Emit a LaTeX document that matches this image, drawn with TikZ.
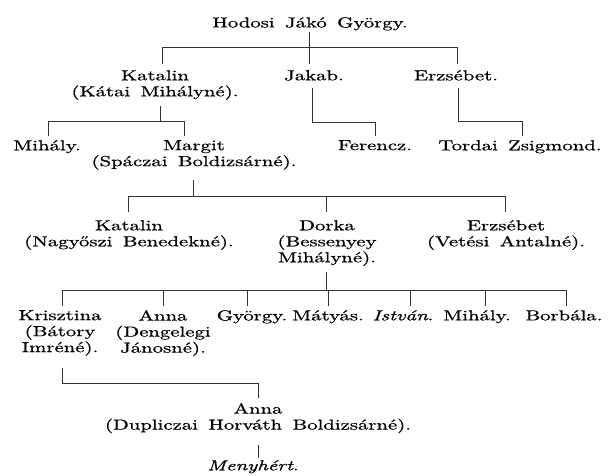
\documentclass[tikz,border=0pt]{standalone}
\usepackage{fontspec}
\setmainfont{lmroman10-regular.otf}[ItalicFont=lmroman10-italic.otf, FakeBold=0.6]
\newcommand\lblfont{\fontsize{14.5}{16}\selectfont\spaceskip=0.5em plus 0.1em\relax}
\tikzset{
  lbl/.style={inner sep=0pt, anchor=north, align=center, xscale=1.43, font=\lblfont},
  ln/.style={line width=0.7pt, black!80}
}
\begin{document}
\begin{tikzpicture}[x=1pt,y=1pt]
\fill[white] (0,0) rectangle (612,-475);
\useasboundingbox (0,0) rectangle (612,-475);
% labels
\node[lbl] (root) at (310,-17) {Hodosi Jákó György.};
\node[lbl] (kat1) at (155,-70) {Katalin\\(Kátai Mihályné).};
\node[lbl] (jak) at (314,-70) {Jakab.};
\node[lbl] (erz1) at (456,-70) {Erzsébet.};
\node[lbl] (mih1) at (47,-140) {Mihály.};
\node[lbl] (mar) at (194,-140) {Margit\\(Spáczai Boldizsárné).};
\node[lbl] (fer) at (375,-140) {Ferencz.};
\node[lbl] (tor) at (520,-140) {Tordai Zsigmond.};
\node[lbl] (kat2) at (129,-220) {Katalin\\(Nagyőszi Benedekné).};
\node[lbl] (dor) at (327,-220) {Dorka\\(Bessenyey\\Mihályné).};
\node[lbl] (erz2) at (506,-220) {Erzsébet\\(Vetési Antalné).};
\node[lbl] (kri) at (60,-310) {Krisztina\\(Bátory\\Imréné).};
\node[lbl] (ann1) at (163,-310) {Anna\\(Dengelegi\\Jánosné).};
\node[lbl] (gyo) at (252,-310) {György.};
\node[lbl] (mat) at (328,-310) {Mátyás.};
\node[lbl] (ist) at (403,-310) {\textit{István}.};
\node[lbl] (mih2) at (477,-310) {Mihály.};
\node[lbl] (bor) at (564,-310) {Borbála.};
\node[lbl] (ann2) at (258,-403) {Anna\\(Dupliczai Horváth Boldizsárné).};
\node[lbl] (men) at (253,-460) {\textit{Menyhért}.};
% junction coordinates
\coordinate (r0) at (309,-32);  \coordinate (r1) at (309,-47);
\coordinate (aL) at (162,-47);  \coordinate (aR) at (457,-47);
\coordinate (aLk) at (162,-64); \coordinate (aMk) at (309,-64); \coordinate (aRk) at (457,-64);
\coordinate (k0) at (160,-106); \coordinate (k1) at (160,-121);
\coordinate (bL) at (48,-121);  \coordinate (bR) at (184,-121);
\coordinate (bLk) at (48,-136); \coordinate (bRk) at (184,-136);
\coordinate (j0) at (312,-88);  \coordinate (j1) at (312,-122);
\coordinate (j2) at (375,-122); \coordinate (j3) at (375,-136);
\coordinate (e0) at (458,-88);  \coordinate (e1) at (458,-121);
\coordinate (e2) at (522,-121); \coordinate (e3) at (522,-136);
\coordinate (s0) at (193,-180); \coordinate (s1) at (193,-196);
\coordinate (cL) at (128,-196); \coordinate (cM) at (326,-196); \coordinate (cR) at (505,-196);
\coordinate (cLk) at (128,-212); \coordinate (cMk) at (326,-212); \coordinate (cRk) at (505,-212);
\coordinate (d0) at (326,-272); \coordinate (d1) at (326,-290);
\coordinate (dL) at (62,-290);  \coordinate (dR) at (566,-290);
\coordinate (q0) at (62,-368);  \coordinate (q1) at (62,-383);
\coordinate (q2) at (258,-383); \coordinate (q3) at (258,-398);
\coordinate (m0) at (258,-445); \coordinate (m1) at (258,-458);
% connectors
\draw[ln] (r0) -- (r1);
\draw[ln] (aL) -- (aR);
\draw[ln] (aL) -- (aLk);
\draw[ln] (r1) -- (aMk);
\draw[ln] (aR) -- (aRk);
\draw[ln] (k0) -- (k1);
\draw[ln] (bL) -- (bR);
\draw[ln] (bL) -- (bLk);
\draw[ln] (bR) -- (bRk);
\draw[ln] (j0) -- (j1) -- (j2) -- (j3);
\draw[ln] (e0) -- (e1) -- (e2) -- (e3);
\draw[ln] (s0) -- (s1);
\draw[ln] (cL) -- (cR);
\draw[ln] (cL) -- (cLk);
\draw[ln] (cM) -- (cMk);
\draw[ln] (cR) -- (cRk);
\draw[ln] (d0) -- (d1);
\draw[ln] (dL) -- (dR);
\foreach \x in {62,163,247,328,410,485,566}{
  \draw[ln] (\x,-290) -- (\x,-306);
}
\draw[ln] (q0) -- (q1) -- (q2) -- (q3);
\draw[ln] (m0) -- (m1);
\end{tikzpicture}
\end{document}
